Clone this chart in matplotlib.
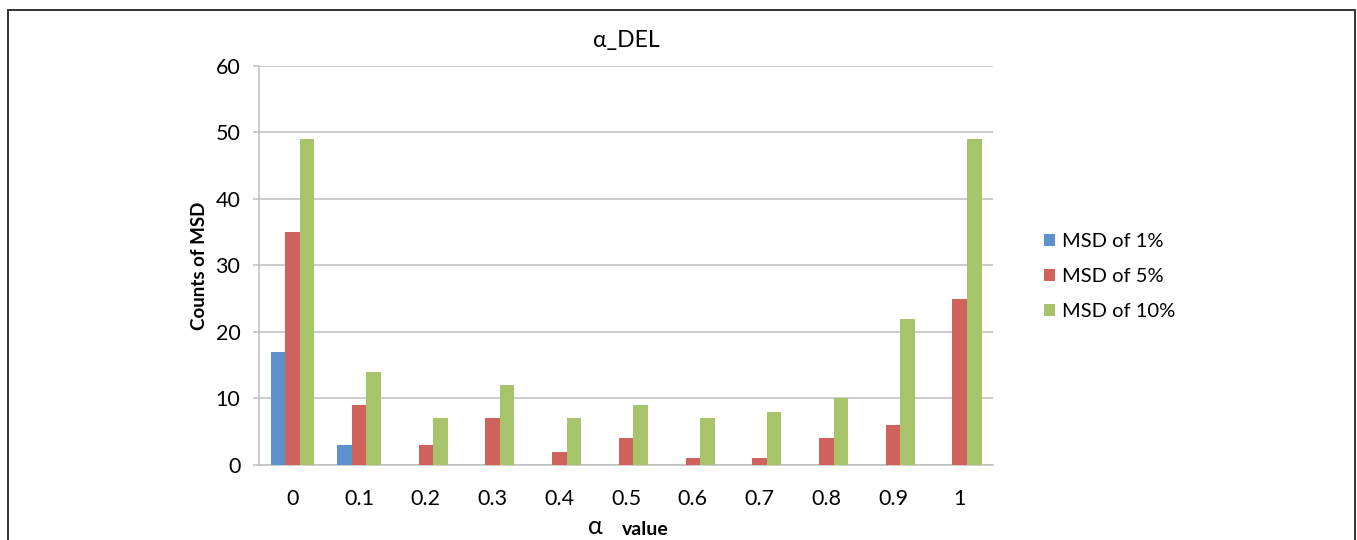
import numpy as np
import matplotlib.pyplot as plt
from matplotlib.patches import Rectangle

# values
alpha_labels = ['0', '0.1', '0.2', '0.3', '0.4', '0.5', '0.6', '0.7', '0.8', '0.9', '1']
msd_1 = [17, 3, 0, 0, 0, 0, 0, 0, 0, 0, 0]
msd_5 = [35, 9, 3, 7, 2, 4, 1, 1, 4, 6, 25]
msd_10 = [49, 14, 7, 12, 7, 9, 7, 8, 10, 22, 49]
series_names = ['MSD of 1%', 'MSD of 5%', 'MSD of 10%']
colors = ['#5b92cd', '#d0625d', '#a7c46a']

plt.rcParams['font.family'] = ['Lato', 'DejaVu Sans']

fig = plt.figure(figsize=(13.57, 5.4), dpi=100)
ax = fig.add_axes([0.1909, 0.1389, 0.5409, 0.7389])

x = np.arange(len(alpha_labels))
w = 0.218
for i, (vals, name, c) in enumerate(zip([msd_1, msd_5, msd_10], series_names, colors)):
    ax.bar(x + (i - 1) * w, vals, width=w, color=c, label=name, zorder=3)

ax.set_xlim(-0.5, len(alpha_labels) - 0.5)
ax.set_ylim(0, 60)
ax.set_yticks(range(0, 61, 10))
ax.set_xticks(x)
ax.set_xticklabels(alpha_labels)
ax.grid(axis='y', color='#bfbfbf', linewidth=1.1, zorder=0)
for s in ['top', 'right']:
    ax.spines[s].set_visible(False)
for s in ['left', 'bottom']:
    ax.spines[s].set_color('#bfbfbf')
    ax.spines[s].set_linewidth(1.1)
ax.tick_params(axis='y', length=4.5, color='#bfbfbf', width=1.1, labelsize=15.5, pad=9)
ax.tick_params(axis='x', length=0, labelsize=15.5, pad=17)

ax.set_title('α_DEL', fontsize=16.5, pad=14)
ax.set_ylabel('Counts of MSD', fontsize=13.5, fontweight='bold', labelpad=5)

# x label: alpha symbol plus bold "value"
fig.text(595 / 1357, 0.012, 'α', fontsize=18, ha='center', va='baseline')
fig.text(645 / 1357, 0.010, 'value', fontsize=14, fontweight='bold', ha='center', va='baseline')

ax.legend(loc='center left', bbox_to_anchor=(1.045, 0.472), frameon=False, fontsize=14.5,
          handlelength=0.55, handleheight=0.55, handletextpad=0.35, labelspacing=0.9)

# outer frame around the figure
fig.patches.append(Rectangle((8 / 1357, -0.1), 1347 / 1357, 0.1 + 530 / 540,
                             transform=fig.transFigure, fill=False,
                             edgecolor='#333333', linewidth=1.4))

fig.savefig('out.png', dpi=100)
